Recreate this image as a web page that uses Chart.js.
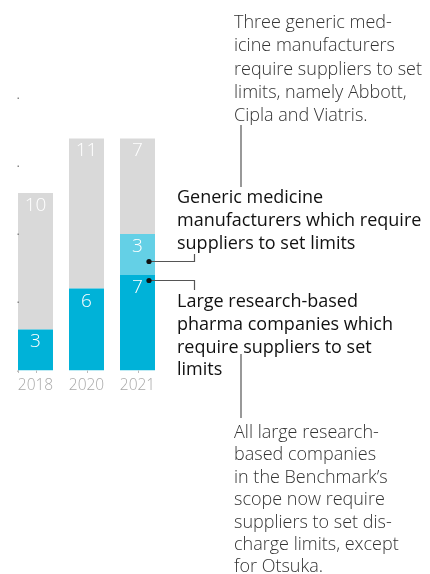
<!DOCTYPE html>
<html>
<head>
<meta charset="utf-8">
<script src="https://cdn.jsdelivr.net/npm/chart.js@4.4.1/dist/chart.umd.min.js"></script>
<style>
  html, body { margin: 0; padding: 0; background: #fff; }
  #wrap { position: relative; width: 430px; height: 574px; overflow: hidden; }
  #chart { position: absolute; left: 0; top: 0; }
  .note { position: absolute; font-family: "Open Sans", sans-serif; font-size: 18px; line-height: 22.8px; white-space: nowrap; }
  .grey { color: #333; font-weight: 300; }
  .dark { color: #111; font-weight: 400; }
</style>
</head>
<body>
<div id="wrap">
  <canvas id="chart" width="430" height="574"></canvas>
  <div class="note grey" style="left:234px; top:10px; line-height:23.3px;">Three generic med-<br>icine manufacturers<br>require suppliers to set<br>limits, namely Abbott,<br>Cipla and Viatris.</div>
  <div class="note dark" style="left:177px; top:185px;">Generic medicine<br>manufacturers which require<br>suppliers to set limits</div>
  <div class="note dark" style="left:177px; top:289px;">Large research-based<br>pharma companies which<br>require suppliers to set<br>limits</div>
  <div class="note grey" style="left:234px; top:420px; line-height:22.4px;">All large research-<br>based companies<br>in the Benchmark’s<br>scope now require<br>suppliers to set dis-<br>charge limits, except<br>for Otsuka.</div>
</div>
<script>
// data
const years = ["2018", "2020", "2021"];
const largePharma = [3, 6, 7];
const genericMakers = [null, null, 3];
const notRequiring = [10, 11, 7];
const yTicks = [0, 5, 10, 15, 20];

// where the leader dots sit, in axis units
const genericDotValue = 8;
const largeDotValue = 6.65;

const blue = "#00b2d8";
const lightBlue = "#64d0e6";
const grey = "#d9d9d9";

// labels inside the segments, ticks and leader lines
const extras = {
  id: "extras",
  afterDatasetsDraw(chart) {
    const ctx = chart.ctx;
    const x = chart.scales.x;
    const y = chart.scales.y;

    ctx.save();
    ctx.font = "300 19px 'Open Sans'";
    ctx.fillStyle = "#fff";
    ctx.textAlign = "center";
    ctx.textBaseline = "middle";
    chart.data.datasets.forEach((ds, di) => {
      chart.getDatasetMeta(di).data.forEach((bar, i) => {
        const v = ds.data[i];
        if (v == null) return;
        ctx.fillText(String(v), bar.x, bar.y + 12.5);
      });
    });

    const first = chart.getDatasetMeta(0).data[0];
    const leftEdge = first.x - first.width / 2;

    // small y dots
    ctx.fillStyle = "#888";
    yTicks.forEach(t => {
      ctx.fillRect(leftEdge - 0.5, Math.round(y.getPixelForValue(t)) - 0.5, 1.5, 1.5);
    });

    // x tick marks and year labels
    ctx.strokeStyle = "#bbb";
    ctx.lineWidth = 1;
    const base = y.getPixelForValue(0);
    [leftEdge].concat(years.map((_, i) => x.getPixelForValue(i))).forEach(px => {
      ctx.beginPath();
      ctx.moveTo(Math.round(px) + 0.5, base);
      ctx.lineTo(Math.round(px) + 0.5, base + 2.5);
      ctx.stroke();
    });
    ctx.font = "300 15.5px 'Open Sans'";
    ctx.fillStyle = "#a8a8a8";
    years.forEach((yr, i) => {
      ctx.fillText(yr, x.getPixelForValue(i), base + 15);
    });

    // leader lines
    const last = chart.getDatasetMeta(0).data[2];
    const dotX = last.x + last.width / 2 - 6;
    const gY = Math.round(y.getPixelForValue(genericDotValue)) + 0.5;
    const lY = Math.round(y.getPixelForValue(largeDotValue)) + 0.5;

    ctx.strokeStyle = "#555";
    ctx.lineWidth = 1.2;
    ctx.beginPath();
    ctx.moveTo(241, 125); ctx.lineTo(241, 187);
    ctx.moveTo(dotX, gY); ctx.lineTo(194.5, gY); ctx.lineTo(194.5, 254);
    ctx.moveTo(dotX, lY); ctx.lineTo(194.5, lY); ctx.lineTo(194.5, 290);
    ctx.moveTo(241, 354); ctx.lineTo(241, 418);
    ctx.stroke();

    ctx.fillStyle = "#111";
    [gY, lY].forEach(py => {
      ctx.beginPath();
      ctx.arc(dotX, py, 2.6, 0, Math.PI * 2);
      ctx.fill();
    });
    ctx.restore();
  }
};

new Chart(document.getElementById("chart"), {
  type: "bar",
  data: {
    labels: years,
    datasets: [
      { label: "Large research-based pharma companies which require suppliers to set limits", data: largePharma, backgroundColor: blue },
      { label: "Generic medicine manufacturers which require suppliers to set limits", data: genericMakers, backgroundColor: lightBlue },
      { label: "Companies without such a requirement", data: notRequiring, backgroundColor: grey }
    ]
  },
  options: {
    responsive: false,
    animation: false,
    layout: { padding: { left: 10, right: 267, top: 97.5, bottom: 203.5 } },
    datasets: { bar: { categoryPercentage: 1, barPercentage: 0.686, borderWidth: 0 } },
    scales: {
      x: { stacked: true, display: false },
      y: { stacked: true, display: false, min: 0, max: 20 }
    },
    plugins: { legend: { display: false }, tooltip: { enabled: false } }
  },
  plugins: [extras]
});
</script>
</body>
</html>
